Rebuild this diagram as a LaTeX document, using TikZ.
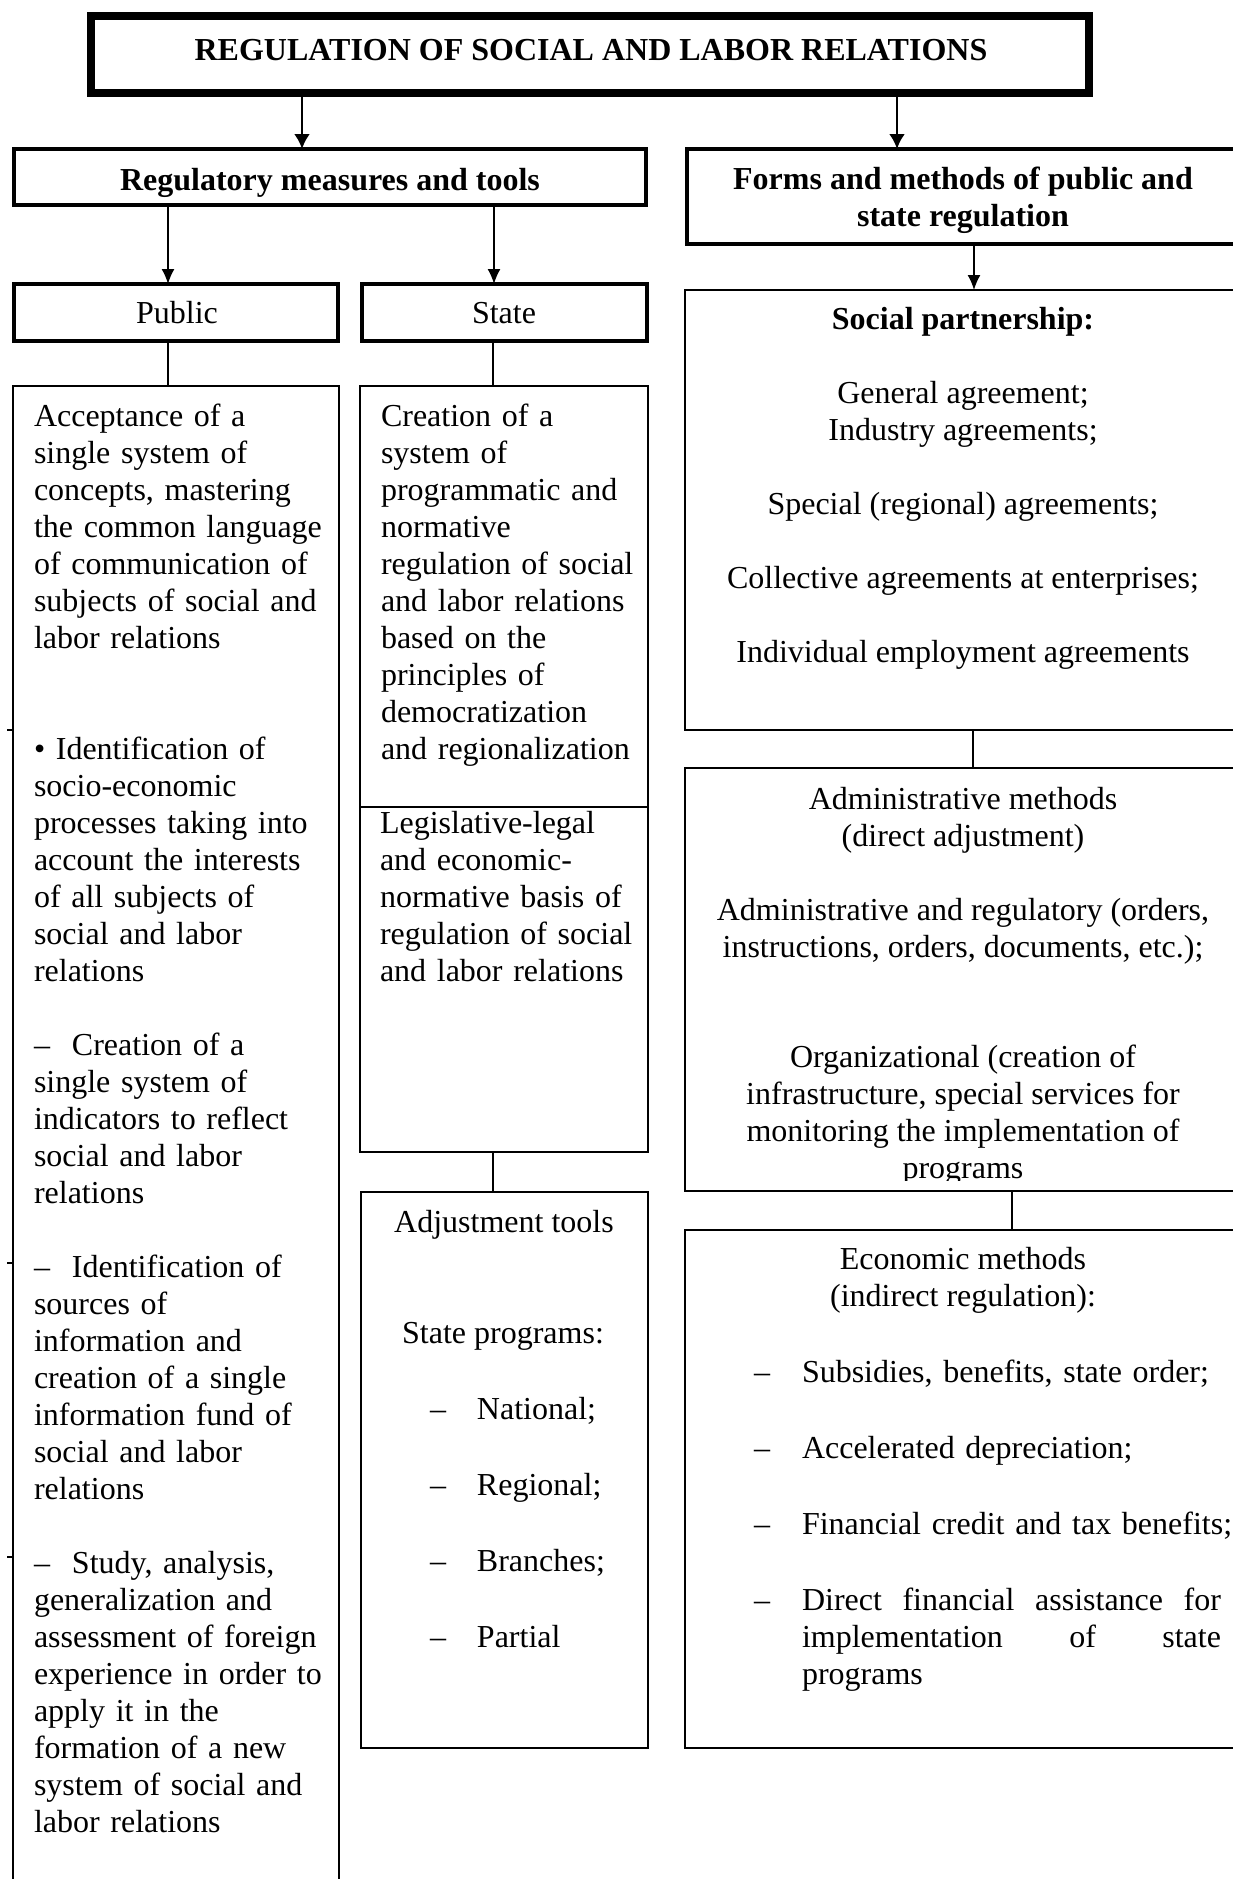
\documentclass[tikz,border=0pt]{standalone}
\usepackage{fontspec}
\setmainfont{Liberation Serif}
\usetikzlibrary{arrows.meta,calc}
\newcommand\diagfont{\fontsize{16pt}{18.5pt}\selectfont}
\begin{document}
\begin{tikzpicture}[x=0.5pt,y=-0.5pt,
  every node/.style={inner sep=0pt,outer sep=0pt,font=\diagfont},
  frame/.style={draw,line width=1pt,anchor=north west},
  headbox/.style={draw,line width=1.75pt,anchor=north west},
  mainbox/.style={draw,line width=4.2pt,anchor=north west},
  conn/.style={line width=0.8pt},
  arr/.style={line width=0.8pt,-{Latex[length=7.5pt,width=6.5pt]}},
  bigarr/.style={line width=1.3pt,-{Latex[length=7.5pt,width=8pt]}},
  lefttext/.style={anchor=north west,align=left},
  ctext/.style={anchor=north,align=center},
]
\fill[white] (0,0) rectangle (1232,1879);
\useasboundingbox (0,0) rectangle (1232,1879);

% frames
\node[mainbox,minimum width=499pt,minimum height=38.5pt] (top) at (91,16) {};
\node[headbox,minimum width=316pt,minimum height=28pt] (reg) at (14,149) {};
\node[headbox,minimum width=279pt,minimum height=47.5pt] (forms) at (687,149) {};
\node[headbox,minimum width=162pt,minimum height=28.5pt] (public) at (14,284) {};
\node[headbox,minimum width=142.5pt,minimum height=28.5pt] (state) at (362,284) {};
\node[frame,minimum width=163pt,minimum height=760pt] (pubbody) at (13,386) {};
\node[frame,minimum width=144pt,minimum height=383pt] (statebody) at (360,386) {};
\node[frame,minimum width=143.5pt,minimum height=278pt] (tools) at (361,1192) {};
\node[frame,minimum width=278pt,minimum height=220pt] (partner) at (685,290) {};
\node[frame,minimum width=278pt,minimum height=211.5pt] (admin) at (685,768) {};
\node[frame,minimum width=278pt,minimum height=259pt] (econ) at (685,1230) {};

% divider inside the state column
\coordinate (split) at (0,807);
\draw[line width=1pt] (statebody.west |- split) -- (statebody.east |- split);

% headings
\node[font=\diagfont\bfseries,anchor=base] (toptxt) at (591,60) {REGULATION OF SOCIAL AND LABOR RELATIONS};
\node[font=\diagfont\bfseries,anchor=base] (regtxt) at (330,190) {Regulatory measures and tools};
\node[font=\diagfont\bfseries,ctext] (formstxt) at (963,164) {\strut Forms and methods of public and\\ state regulation};
\node[anchor=base] (pubtxt) at (177,323) {Public};
\node[anchor=base] (statetxt) at (504,323) {State};

% public measures
\node[lefttext,text width=154pt] (pubitems) at (34,401) {\strut Acceptance of a\\ single system of\\ concepts, mastering\\ the common language\\ of communication of\\ subjects of social and\\ labor relations\\[37pt]
• Identification of\\ socio-economic\\ processes taking into\\ account the interests\\ of all subjects of\\ social and labor\\ relations\\[18.5pt]
\makebox[19pt][l]{–}Creation of a\\ single system of\\ indicators to reflect\\ social and labor\\ relations\\[18.5pt]
\makebox[19pt][l]{–}Identification of\\ sources of\\ information and\\ creation of a single\\ information fund of\\ social and labor\\ relations\\[18.5pt]
\makebox[19pt][l]{–}Study, analysis,\\ generalization and\\ assessment of foreign\\ experience in order to\\ apply it in the\\ formation of a new\\ system of social and\\ labor relations};

% state measures
\node[lefttext,text width=134pt] (stateplan) at (381,401) {\strut Creation of a\\ system of\\ programmatic and\\ normative\\ regulation of social\\ and labor relations\\ based on the\\ principles of\\ democratization\\ and regionalization};
\node[lefttext,text width=134pt] (statelaw) at (380,808) {\strut Legislative-legal\\ and economic-\\ normative basis of\\ regulation of social\\ and labor relations};

% adjustment tools
\node[anchor=base] (toolstitle) at (504,1232) {Adjustment tools};
\node[anchor=base] (progtitle) at (503,1343) {State programs:};
\node[lefttext] (proglist) at (430,1394) {\strut\makebox[23.5pt][l]{–}National;\\[19.35pt] \makebox[23.5pt][l]{–}Regional;\\[19.35pt] \makebox[23.5pt][l]{–}Branches;\\[19.35pt] \makebox[23.5pt][l]{–}Partial};

% social partnership
\node[ctext] (partnertxt) at (963,304) {\strut\textbf{Social partnership:}\\[18.5pt] General agreement;\\ Industry agreements;\\[18.5pt] Special (regional) agreements;\\[18.5pt] Collective agreements at enterprises;\\[18.5pt] Individual employment agreements};

% administrative methods (text cut at the lower frame)
\begin{scope}
\clip (685,768) rectangle (1241,1180);
\node[ctext] (admintxt) at (963,784) {\strut Administrative methods\\ (direct adjustment)\\[18.5pt] Administrative and regulatory (orders,\\ instructions, orders, documents, etc.);\\[36.5pt] Organizational (creation of\\ infrastructure, special services for\\ monitoring the implementation of\\ programs};
\end{scope}

% economic methods
\node[ctext] (econhead) at (963,1244) {\strut Economic methods\\ (indirect regulation):};
\node[lefttext,text width=240pt] (econlist) at (754,1357) {\strut\makebox[24pt][l]{–}Subsidies, benefits, state order;\\[19.35pt] \makebox[24pt][l]{–}Accelerated depreciation;\\[19.35pt] \makebox[24pt][l]{–}Financial credit and tax benefits;\\[19.35pt] \makebox[24pt][l]{–}\makebox[209.5pt][s]{Direct\hfill financial\hfill assistance\hfill for}\\ \hspace*{24pt}\makebox[209.5pt][s]{implementation\hfill of\hfill state}\\ \hspace*{24pt}programs};

% arrows
\draw[bigarr] ([xshift=-144pt]top.south) -- ([xshift=-144pt]top.south |- reg.north);
\draw[bigarr] ([xshift=153.5pt]top.south) -- ([xshift=153.5pt]top.south |- forms.north);
\draw[arr] ([xshift=-81pt]reg.south) -- ([xshift=-81pt]reg.south |- public.north);
\draw[arr] ([xshift=82pt]reg.south) -- ([xshift=82pt]reg.south |- state.north);
\draw[arr] ([xshift=4pt]forms.south) -- ([xshift=4pt]forms.south |- partner.north);

% plain connectors
\draw[conn] ([xshift=-4pt]public.south) -- ([xshift=-4pt]public.south |- pubbody.north);
\draw[conn] ([xshift=-5.75pt]state.south) -- ([xshift=-5.75pt]state.south |- statebody.north);
\draw[conn] ([xshift=-5.5pt]statebody.south) -- ([xshift=-5.5pt]statebody.south |- tools.north);
\draw[conn] ([xshift=5pt]partner.south) -- ([xshift=5pt]partner.south |- admin.north);
\draw[conn] ([xshift=24.5pt]admin.south) -- ([xshift=24.5pt]admin.south |- econ.north);

% small ticks on the left frame
\coordinate (tka) at (0,730);
\coordinate (tkb) at (0,1263);
\coordinate (tkc) at (0,1557);
\foreach \t in {tka,tkb,tkc}
  \draw[conn] (pubbody.west |- \t) -- ++(-6,0);
\end{tikzpicture}
\end{document}
